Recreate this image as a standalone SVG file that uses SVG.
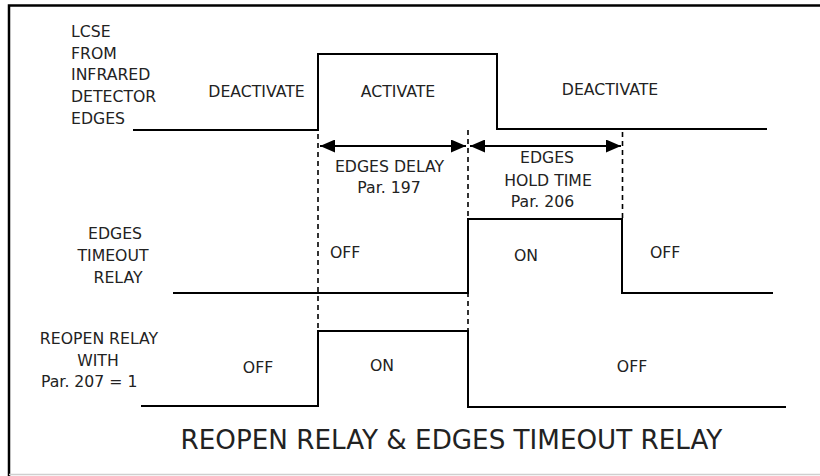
<svg xmlns="http://www.w3.org/2000/svg" width="820" height="476" viewBox="0 0 820 476">
<defs>
<style>
.sig{fill:none;stroke:#000;stroke-width:2}
.dash{fill:none;stroke:#000;stroke-width:1.6;stroke-dasharray:5,4}
.arr{fill:none;stroke:#000;stroke-width:2}
text{font-family:"DejaVu Sans","Verdana",sans-serif;font-size:15.7px;fill:#222}
.m{text-anchor:middle}
.title{font-size:26.2px}
</style>
<marker id="ah" viewBox="0 0 15 13" refX="15" refY="6.5" markerWidth="15" markerHeight="13" markerUnits="userSpaceOnUse" orient="auto-start-reverse">
<path d="M0,0 L15,6.5 L0,13 z" fill="#000"/>
</marker>
</defs>
<rect width="820" height="476" fill="#fff"/>
<g id="frame">
<path d="M9,476 V5.5 H820" fill="none" stroke="#000" stroke-width="2.5"/>
<line x1="9" y1="474.5" x2="820" y2="474.5" stroke="#cfcfcf" stroke-width="1.5"/>
</g>
<g id="lcse">
<path class="sig" d="M133,130 H318 V54 H497 V129 H767"/>
<text x="71" y="37">LCSE</text>
<text x="71" y="58.5">FROM</text>
<text x="71" y="80">INFRARED</text>
<text x="71" y="101.5">DETECTOR</text>
<text x="71" y="124">EDGES</text>
<text class="m" x="256.5" y="96.5">DEACTIVATE</text>
<text class="m" x="398" y="96.5">ACTIVATE</text>
<text class="m" x="610" y="95">DEACTIVATE</text>
</g>
<g id="edges-timeout">
<path class="sig" d="M173,293 H468 V219 H622 V293 H773"/>
<text class="m" x="115" y="239">EDGES</text>
<text class="m" x="113" y="261">TIMEOUT</text>
<text class="m" x="118" y="283">RELAY</text>
<text x="330" y="258">OFF</text>
<text x="514" y="261">ON</text>
<text x="650" y="258">OFF</text>
</g>
<g id="reopen">
<path class="sig" d="M141,406 H318 V331 H468 V407 H786"/>
<text class="m" x="99" y="344">REOPEN RELAY</text>
<text class="m" x="98" y="366">WITH</text>
<text x="41" y="387">Par. 207 = 1</text>
<text class="m" x="258" y="373">OFF</text>
<text class="m" x="382" y="371">ON</text>
<text class="m" x="632" y="372">OFF</text>
</g>
<g id="edges-delay">
<text class="m" x="389.5" y="171.5">EDGES DELAY</text>
<text class="m" x="389" y="192.5">Par. 197</text>
</g>
<g id="hold-time">
<text class="m" x="547" y="163">EDGES</text>
<text class="m" x="548" y="185.5">HOLD TIME</text>
<text class="m" x="542.5" y="207">Par. 206</text>
</g>
<g id="connectors">
<line class="dash" x1="318" y1="134" x2="318" y2="331"/>
<line class="dash" x1="468" y1="130" x2="468" y2="331"/>
<line class="dash" x1="622.5" y1="132" x2="622.5" y2="219"/>
<line class="arr" x1="320" y1="146" x2="466" y2="146" marker-start="url(#ah)" marker-end="url(#ah)"/>
<line class="arr" x1="470" y1="146" x2="621" y2="146" marker-start="url(#ah)" marker-end="url(#ah)"/>
</g>
<g id="title">
<text class="m title" x="451.5" y="449">REOPEN RELAY &amp; EDGES TIMEOUT RELAY</text>
</g>
</svg>
